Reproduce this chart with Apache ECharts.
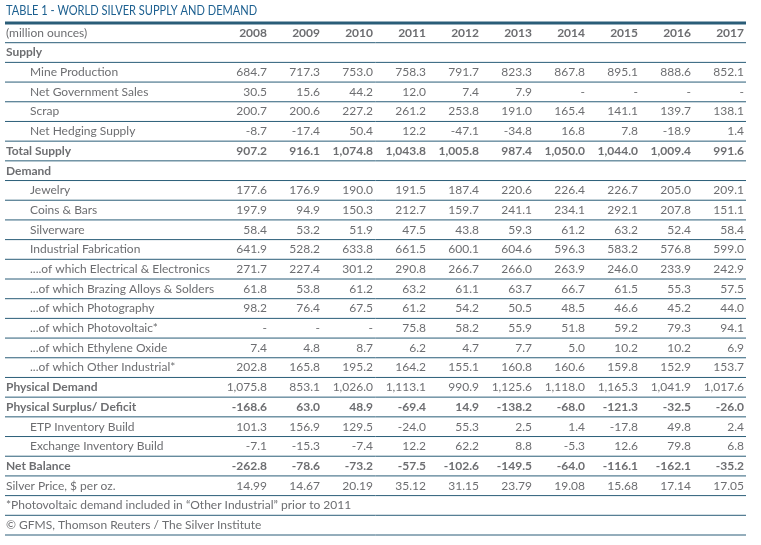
<!DOCTYPE html>
<html>
<head>
<meta charset="utf-8">
<script src="https://cdn.jsdelivr.net/npm/echarts@6/dist/echarts.min.js"></script>
<style>
html, body { margin: 0; padding: 0; background: #fff; }
#main { width: 761px; height: 545px; }
</style>
</head>
<body>
<div id="main"></div>
<script>
var years = ['2008', '2009', '2010', '2011', '2012', '2013', '2014', '2015', '2016', '2017'];

// supply
var mineProduction = [684.7, 717.3, 753.0, 758.3, 791.7, 823.3, 867.8, 895.1, 888.6, 852.1];
var netGovSales = [30.5, 15.6, 44.2, 12.0, 7.4, 7.9, null, null, null, null];
var scrap = [200.7, 200.6, 227.2, 261.2, 253.8, 191.0, 165.4, 141.1, 139.7, 138.1];
var netHedging = [-8.7, -17.4, 50.4, 12.2, -47.1, -34.8, 16.8, 7.8, -18.9, 1.4];
var totalSupply = [907.2, 916.1, 1074.8, 1043.8, 1005.8, 987.4, 1050.0, 1044.0, 1009.4, 991.6];

// demand
var jewelry = [177.6, 176.9, 190.0, 191.5, 187.4, 220.6, 226.4, 226.7, 205.0, 209.1];
var coinsBars = [197.9, 94.9, 150.3, 212.7, 159.7, 241.1, 234.1, 292.1, 207.8, 151.1];
var silverware = [58.4, 53.2, 51.9, 47.5, 43.8, 59.3, 61.2, 63.2, 52.4, 58.4];
var industrialFab = [641.9, 528.2, 633.8, 661.5, 600.1, 604.6, 596.3, 583.2, 576.8, 599.0];
var electrical = [271.7, 227.4, 301.2, 290.8, 266.7, 266.0, 263.9, 246.0, 233.9, 242.9];
var brazing = [61.8, 53.8, 61.2, 63.2, 61.1, 63.7, 66.7, 61.5, 55.3, 57.5];
var photography = [98.2, 76.4, 67.5, 61.2, 54.2, 50.5, 48.5, 46.6, 45.2, 44.0];
var photovoltaic = [null, null, null, 75.8, 58.2, 55.9, 51.8, 59.2, 79.3, 94.1];
var ethylene = [7.4, 4.8, 8.7, 6.2, 4.7, 7.7, 5.0, 10.2, 10.2, 6.9];
var otherIndustrial = [202.8, 165.8, 195.2, 164.2, 155.1, 160.8, 160.6, 159.8, 152.9, 153.7];
var physicalDemand = [1075.8, 853.1, 1026.0, 1113.1, 990.9, 1125.6, 1118.0, 1165.3, 1041.9, 1017.6];

// balance
var surplusDeficit = [-168.6, 63.0, 48.9, -69.4, 14.9, -138.2, -68.0, -121.3, -32.5, -26.0];
var etpBuild = [101.3, 156.9, 129.5, -24.0, 55.3, 2.5, 1.4, -17.8, 49.8, 2.4];
var exchangeBuild = [-7.1, -15.3, -7.4, 12.2, 62.2, 8.8, -5.3, 12.6, 79.8, 6.8];
var netBalance = [-262.8, -78.6, -73.2, -57.5, -102.6, -149.5, -64.0, -116.1, -162.1, -35.2];
var silverPrice = [14.99, 14.67, 20.19, 35.12, 31.15, 23.79, 19.08, 15.68, 17.14, 17.05];

// row label, values, kind
var rows = [
    ['(million ounces)', years, 'head'],
    ['Supply', null, 'section'],
    ['Mine Production', mineProduction, 'item'],
    ['Net Government Sales', netGovSales, 'item'],
    ['Scrap', scrap, 'item'],
    ['Net Hedging Supply', netHedging, 'item'],
    ['Total Supply', totalSupply, 'total'],
    ['Demand', null, 'section'],
    ['Jewelry', jewelry, 'item'],
    ['Coins & Bars', coinsBars, 'item'],
    ['Silverware', silverware, 'item'],
    ['Industrial Fabrication', industrialFab, 'item'],
    ['....of which Electrical & Electronics', electrical, 'item'],
    ['...of which Brazing Alloys & Solders', brazing, 'item'],
    ['...of which Photography', photography, 'item'],
    ['...of which Photovoltaic*', photovoltaic, 'item'],
    ['...of which Ethylene Oxide', ethylene, 'item'],
    ['...of which Other Industrial*', otherIndustrial, 'item'],
    ['Physical Demand', physicalDemand, 'boldlabel'],
    ['Physical Surplus/ Deficit', surplusDeficit, 'total'],
    ['ETP Inventory Build', etpBuild, 'item'],
    ['Exchange Inventory Build', exchangeBuild, 'item'],
    ['Net Balance', netBalance, 'total'],
    ['Silver Price, $ per oz.', silverPrice, 'plain2'],
    ['*Photovoltaic demand included in \u201cOther Industrial\u201d prior to 2011', null, 'note'],
    ['\u00a9 GFMS, Thomson Reuters / The Silver Institute', null, 'note']
];

var rowNames = rows.map(function (r) { return r[0]; });

var textColor = '#6d6e71';
var lineColor = '#2a5d78';
var fontFamily = 'Lato, "Open Sans", sans-serif';

function fmt(v, digits) {
    if (v === null || v === undefined) return '-';
    if (typeof v === 'string') return v;
    return v.toLocaleString('en-US', {minimumFractionDigits: digits, maximumFractionDigits: digits});
}

function renderRow(params, api) {
    var i = params.dataIndex;
    var row = rows[i];
    var kind = row[2];
    var cs = params.coordSys;
    var bandW = api.size([1, 0])[0];
    var bandH = api.size([0, 1])[1];
    var y = api.coord([0, i])[1];
    var children = [];

    var labelBold = kind === 'section' || kind === 'total' || kind === 'boldlabel';
    var indent = kind === 'item' ? 30 : 6;
    children.push({
        type: 'text',
        style: {
            x: indent, y: y, text: row[0],
            align: 'left', verticalAlign: 'middle',
            fill: textColor, fontFamily: fontFamily, fontSize: 12,
            fontWeight: labelBold ? 'bold' : 'normal'
        }
    });

    if (row[1]) {
        var digits = kind === 'plain2' ? 2 : 1;
        var valBold = kind === 'head' || kind === 'total';
        for (var j = 0; j < years.length; j++) {
            var p = api.coord([j, i]);
            children.push({
                type: 'text',
                style: {
                    x: p[0] + bandW / 2 - 2, y: y, text: fmt(row[1][j], digits),
                    align: 'right', verticalAlign: 'middle',
                    fill: textColor, fontFamily: fontFamily, fontSize: 12,
                    fontWeight: valBold ? 'bold' : 'normal'
                }
            });
        }
    }

    // rule under the row
    var right = cs.x + cs.width;
    children.push({
        type: 'line',
        shape: {x1: 5, y1: y + bandH / 2, x2: right, y2: y + bandH / 2},
        style: {stroke: lineColor, lineWidth: 1}
    });
    if (i === 0) {
        children.push({
            type: 'line',
            shape: {x1: 5, y1: y - bandH / 2, x2: right, y2: y - bandH / 2},
            style: {stroke: lineColor, lineWidth: 3}
        });
    }
    return {type: 'group', children: children};
}

var dom = document.getElementById('main');
var myChart = echarts.init(dom);

var option = {
    animation: false,
    // title drawn as graphic text so it can be squeezed like the narrow original face
    graphic: [{
        type: 'text',
        x: 6,
        y: 11,
        scaleX: 0.85,
        style: {
            text: 'TABLE 1 - WORLD SILVER SUPPLY AND DEMAND',
            fill: '#1d6090',
            fontFamily: fontFamily,
            fontSize: 13,
            verticalAlign: 'middle'
        }
    }],
    grid: {
        left: 216,
        right: 15,
        top: 23,
        bottom: 10
    },
    xAxis: {
        type: 'category',
        data: years,
        show: false
    },
    yAxis: {
        type: 'category',
        data: rowNames,
        inverse: true,
        show: false
    },
    series: [{
        type: 'custom',
        clip: false,
        renderItem: renderRow,
        data: rows.map(function (r, i) { return [0, i]; })
    }]
};

myChart.setOption(option);
</script>
</body>
</html>
